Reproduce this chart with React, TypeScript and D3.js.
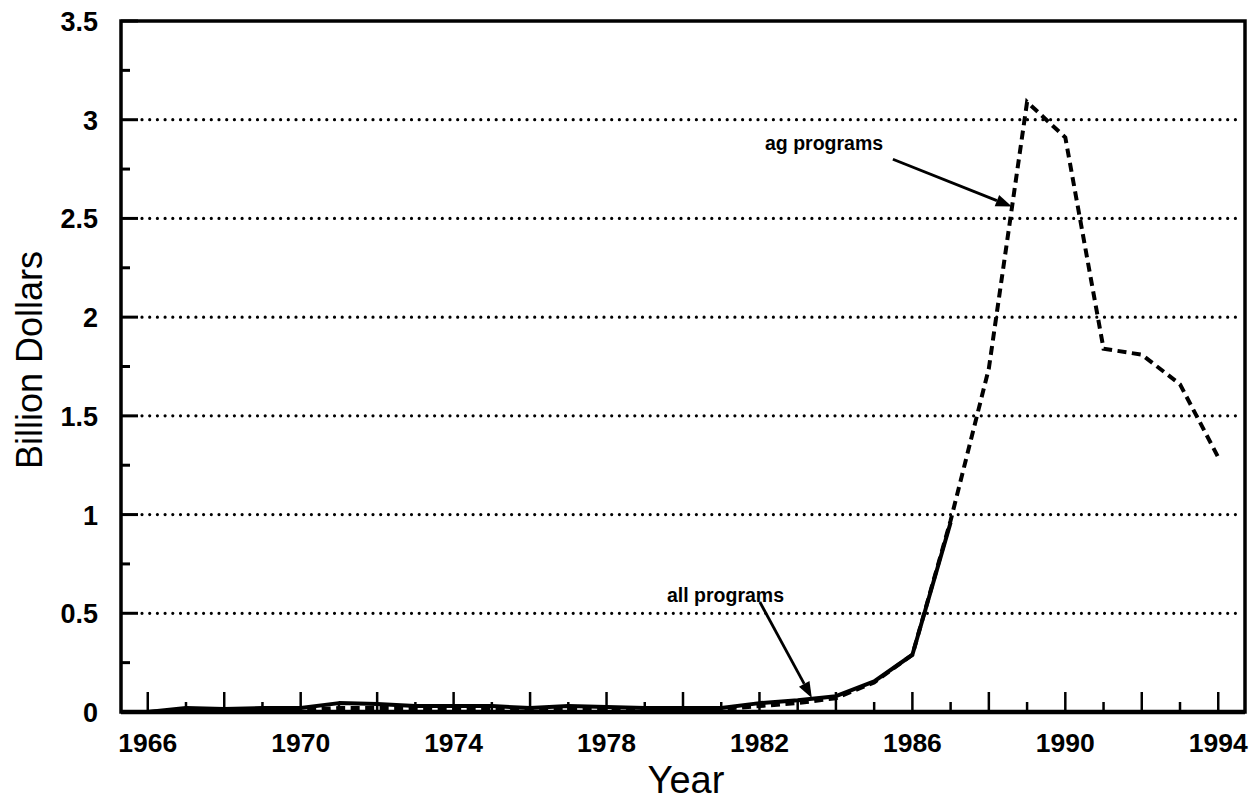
import React from "react";
import * as d3 from "d3";

const years = d3.range(1966, 1995);
const allYears = [1966,1967,1968,1969,1970,1971,1972,1973,1974,1975,1976,1977,1978,1979,1980,1981,1982,1983,1984,1985,1986,1987];
const allPrograms = [0.0,0.02,0.015,0.02,0.02,0.045,0.04,0.03,0.03,0.03,0.02,0.03,0.025,0.02,0.02,0.02,0.045,0.06,0.08,0.155,0.29,0.96];
const agYears = [1966,1967,1968,1969,1970,1971,1972,1973,1974,1975,1976,1977,1978,1979,1980,1981,1982,1983,1984,1985,1986,1987,1988,1989,1990,1991,1992,1993,1994];
const agPrograms = [0.0,0.01,0.01,0.01,0.01,0.02,0.02,0.02,0.02,0.02,0.015,0.02,0.02,0.015,0.015,0.015,0.03,0.045,0.07,0.15,0.29,0.97,1.74,3.09,2.91,1.84,1.81,1.66,1.29];
const yTicks = [0, 0.5, 1, 1.5, 2, 2.5, 3, 3.5];
const yMinorTicks = [0.25, 0.75, 1.25, 1.75, 2.25, 2.75, 3.25];
const gridValues = [0.5, 1, 1.5, 2, 2.5, 3];
const xLabelYears = [1966, 1970, 1974, 1978, 1982, 1986, 1990, 1994];

const FONT = "'Liberation Sans', Arial, Helvetica, sans-serif";

export default function App() {
  const W = 1256, H = 800;
  const left = 121, right = 1245, top = 21, bottom = 712;
  const x = d3.scaleLinear().domain([1965.3, 1994.7]).range([left, right]);
  const y = d3.scaleLinear().domain([0, 3.5]).range([bottom, top]);

  const lineAll = d3.line<number>().x((_, i) => x(allYears[i])).y((d) => y(d));
  const lineAg = d3.line<number>().x((_, i) => x(agYears[i])).y((d) => y(d));

  const arrow = (x1: number, y1: number, x2: number, y2: number, key: string) => {
    const ang = Math.atan2(y2 - y1, x2 - x1);
    const L = 16, Wd = 6;
    const bx = x2 - L * Math.cos(ang), by = y2 - L * Math.sin(ang);
    const p1 = [bx + Wd * Math.sin(ang), by - Wd * Math.cos(ang)];
    const p2 = [bx - Wd * Math.sin(ang), by + Wd * Math.cos(ang)];
    return (
      <g key={key}>
        <line x1={x1} y1={y1} x2={bx} y2={by} stroke="#000" strokeWidth={2.8} />
        <polygon points={`${x2},${y2} ${p1[0]},${p1[1]} ${p2[0]},${p2[1]}`} fill="#000" />
      </g>
    );
  };

  return (
    <svg width={W} height={H} style={{ position: "absolute", left: 0, top: 0, background: "#fff" }}>
      <rect x={0} y={0} width={W} height={H} fill="#fff" />
      {gridValues.map((v) => (
        <line key={"g" + v} x1={left + 21} x2={right - 3} y1={y(v)} y2={y(v)}
          stroke="#000" strokeWidth={3.2} strokeDasharray="0 7.7" strokeLinecap="round" />
      ))}
      {yTicks.map((v) => (
        <line key={"yt" + v} x1={left} x2={left + 17} y1={y(v)} y2={y(v)} stroke="#000" strokeWidth={3} />
      ))}
      {yMinorTicks.map((v) => (
        <line key={"ym" + v} x1={left} x2={left + 9} y1={y(v)} y2={y(v)} stroke="#000" strokeWidth={3} />
      ))}
      {years.map((yr) => (
        <line key={"xt" + yr} x1={x(yr)} x2={x(yr)} y1={bottom} y2={bottom - ((yr % 2 === 0) ? 20 : 10)}
          stroke="#000" strokeWidth={2.5} />
      ))}
      <path d={lineAg(agPrograms) || ""} fill="none" stroke="#000" strokeWidth={4} strokeDasharray="9 5.5" />
      <path d={lineAll(allPrograms) || ""} fill="none" stroke="#000" strokeWidth={4} strokeLinejoin="round" />
      <rect x={left} y={top} width={right - left} height={bottom - top} fill="none" stroke="#000" strokeWidth={3.5} />
      <line x1={left} x2={right} y1={bottom} y2={bottom} stroke="#000" strokeWidth={4.5} />
      {yTicks.map((v) => (
        <text key={"yl" + v} x={98} y={y(v) + 10} textAnchor="end" fontFamily={FONT} fontSize={27} fontWeight="bold">
          {String(v)}
        </text>
      ))}
      {xLabelYears.map((yr) => (
        <text key={"xl" + yr} x={x(yr)} y={752} textAnchor="middle" fontFamily={FONT} fontSize={26.5} fontWeight="bold">
          {String(yr)}
        </text>
      ))}
      <text x={686} y={793} textAnchor="middle" fontFamily={FONT} fontSize={38}>Year</text>
      <text transform="translate(42,360) rotate(-90)" textAnchor="middle" fontFamily={FONT} fontSize={36}>Billion Dollars</text>
      <text x={765} y={150} fontFamily={FONT} fontSize={19.5} fontWeight="bold">ag programs</text>
      {arrow(x(1985.49), y(2.80), x(1988.6), y(2.56), "a1")}
      <text x={667} y={602} fontFamily={FONT} fontSize={19.5} fontWeight="bold">all programs</text>
      {arrow(x(1982.01), y(0.557), x(1983.37), y(0.071), "a2")}
    </svg>
  );
}
